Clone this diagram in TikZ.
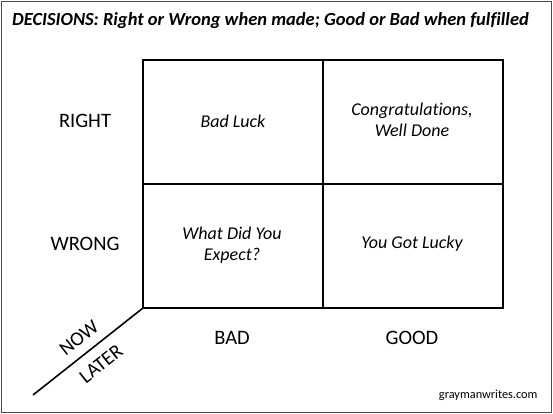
\documentclass[tikz,border=0pt]{standalone}
\usepackage{fontspec}
\setmainfont[Ligatures=NoCommon]{Carlito}
\begin{document}
\begin{tikzpicture}[x=1pt,y=-1pt,
  grid/.style={draw=black,line width=1.6pt},
  axislab/.style={font=\fontsize{20.5}{24}\selectfont},
  celltext/.style={font=\fontsize{18}{21.5}\selectfont\itshape,align=center},
  difflab/.style={font=\fontsize{20}{22}\selectfont,rotate=38.3,inner sep=0pt}]
\useasboundingbox (0,0) rectangle (553,414);
\draw[draw=black!70,line width=1.5pt] (1.5,1.5) rectangle (551.5,412.5);
\node[anchor=west,inner sep=0pt,font=\fontsize{18.5}{22}\selectfont\bfseries\itshape] (title) at (12,21) {DECISIONS: Right or Wrong when made; Good or Bad when fulfilled};
% grid
\coordinate (tl) at (143,60);
\coordinate (tr) at (503,60);
\coordinate (bl) at (143,308);
\coordinate (br) at (503,308);
\coordinate (tm) at (323,60);
\coordinate (bm) at (323,308);
\coordinate (ml) at (143,184);
\coordinate (mr) at (503,184);
\coordinate (diag) at (33,395);
\draw[grid] (tl) rectangle (br);
\draw[grid] (tm) -- (bm);
\draw[grid] (ml) -- (mr);
\draw[grid] (bl) -- (diag);
% labels
\node[axislab] (right) at (85,121) {RIGHT};
\node[axislab] (wrong) at (85,244) {WRONG};
\node[axislab] (bad) at (232,338) {BAD};
\node[axislab] (good) at (412,338) {GOOD};
\node[celltext] (c1) at (233,121) {Bad Luck};
\node[celltext] (c2) at (412,120) {Congratulations,\\Well Done};
\node[celltext] (c3) at (232,245) {What Did You\\Expect?};
\node[celltext] (c4) at (412,244) {You Got Lucky};
\node[difflab] (now) at (79,338) {NOW};
\node[difflab] (later) at (101,364) {LATER};
\node[anchor=east,font=\fontsize{12.3}{15}\selectfont] (site) at (541,395) {graymanwrites.com};
\end{tikzpicture}
\end{document}
